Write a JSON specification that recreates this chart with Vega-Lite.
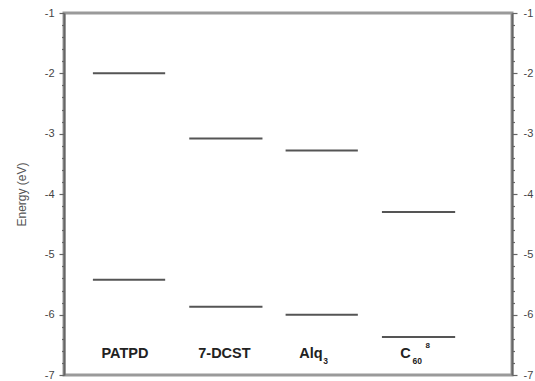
{
  "$schema": "https://vega.github.io/schema/vega-lite/v6.json",
  "width": 448,
  "height": 362,
  "autosize": "none",
  "padding": {"left": 64, "top": 13, "right": 23, "bottom": 6},
  "config": {
    "font": "Liberation Sans",
    "view": {"stroke": "#9a9a9a", "strokeWidth": 3},
    "axis": {
      "domainColor": "#666666",
      "domainWidth": 2,
      "tickColor": "#666666",
      "tickWidth": 1.2,
      "labelColor": "#444444",
      "labelFontSize": 11,
      "grid": false
    }
  },
  "datasets": {
    "levels": [
      {"material": "PATPD", "x0": 0.3, "x1": 1.05, "energy": -2.0},
      {"material": "PATPD", "x0": 0.3, "x1": 1.05, "energy": -5.42},
      {"material": "7-DCST", "x0": 1.3, "x1": 2.06, "energy": -3.08},
      {"material": "7-DCST", "x0": 1.3, "x1": 2.06, "energy": -5.87},
      {"material": "Alq3", "x0": 2.3, "x1": 3.05, "energy": -3.28},
      {"material": "Alq3", "x0": 2.3, "x1": 3.05, "energy": -6.0},
      {"material": "C60", "x0": 3.3, "x1": 4.06, "energy": -4.3},
      {"material": "C60", "x0": 3.3, "x1": 4.06, "energy": -6.37}
    ],
    "labels": [
      {"main": "PATPD", "sub": "", "sup": "", "xe": 0.877, "xs": 0.877, "xp": 0.877, "energy": -6.65},
      {"main": "7-DCST", "sub": "", "sup": "", "xe": 1.937, "xs": 1.937, "xp": 1.937, "energy": -6.65},
      {"main": "Alq", "sub": "3", "sup": "", "xe": 2.685, "xs": 2.69, "xp": 2.69, "energy": -6.65},
      {"main": "C", "sub": "60", "sup": "8", "xe": 3.6, "xs": 3.618, "xp": 3.775, "energy": -6.65}
    ]
  },
  "layer": [
    {
      "data": {"name": "levels"},
      "mark": {"type": "rule", "stroke": "#555555", "strokeWidth": 2},
      "encoding": {
        "x": {"field": "x0", "type": "quantitative", "scale": {"domain": [0, 4.65], "nice": false, "zero": false}, "axis": null},
        "x2": {"field": "x1"},
        "y": {
          "field": "energy", "type": "quantitative",
          "scale": {"domain": [-7, -1], "nice": false, "zero": false},
          "axis": {
            "orient": "left",
            "title": "Energy (eV)",
            "titleFontSize": 12,
            "titleFontWeight": "normal",
            "titleColor": "#555555",
            "titlePadding": 16,
            "values": [-7, -6.8, -6.6, -6.4, -6.2, -6, -5.8, -5.6, -5.4, -5.2, -5, -4.8, -4.6, -4.4, -4.2, -4, -3.8, -3.6, -3.4, -3.2, -3, -2.8, -2.6, -2.4, -2.2, -2, -1.8, -1.6, -1.4, -1.2, -1],
            "labelExpr": "abs(datum.value - round(datum.value)) < 0.01 ? '' + round(datum.value) : ''",
            "tickSize": {"condition": {"test": "abs(datum.value - round(datum.value)) < 0.01", "value": 5}, "value": 2.5},
            "labelPadding": 5
          }
        }
      }
    },
    {
      "data": {"name": "labels"},
      "mark": {"type": "text", "align": "right", "baseline": "middle", "fontWeight": "bold", "fontSize": 14.5, "color": "#222222"},
      "encoding": {
        "x": {"field": "xe", "type": "quantitative", "axis": null},
        "y": {
          "field": "energy", "type": "quantitative",
          "axis": {
            "orient": "right",
            "title": null,
            "values": [-7, -6.8, -6.6, -6.4, -6.2, -6, -5.8, -5.6, -5.4, -5.2, -5, -4.8, -4.6, -4.4, -4.2, -4, -3.8, -3.6, -3.4, -3.2, -3, -2.8, -2.6, -2.4, -2.2, -2, -1.8, -1.6, -1.4, -1.2, -1],
            "labelExpr": "abs(datum.value - round(datum.value)) < 0.01 ? '' + round(datum.value) : ''",
            "tickSize": {"condition": {"test": "abs(datum.value - round(datum.value)) < 0.01", "value": 5}, "value": 2.5},
            "labelPadding": 6
          }
        },
        "text": {"field": "main"}
      }
    },
    {
      "data": {"name": "labels"},
      "transform": [{"filter": "datum.sub != ''"}],
      "mark": {"type": "text", "align": "left", "baseline": "middle", "fontWeight": "bold", "fontSize": 8.5, "dy": 7, "color": "#222222"},
      "encoding": {
        "x": {"field": "xs", "type": "quantitative", "axis": null},
        "y": {"field": "energy", "type": "quantitative", "axis": null},
        "text": {"field": "sub"}
      }
    },
    {
      "data": {"name": "labels"},
      "transform": [{"filter": "datum.sup != ''"}],
      "mark": {"type": "text", "align": "center", "baseline": "middle", "fontWeight": "bold", "fontSize": 8, "dy": -8, "color": "#222222"},
      "encoding": {
        "x": {"field": "xp", "type": "quantitative", "axis": null},
        "y": {"field": "energy", "type": "quantitative", "axis": null},
        "text": {"field": "sup"}
      }
    }
  ],
  "resolve": {"axis": {"y": "independent"}}
}
